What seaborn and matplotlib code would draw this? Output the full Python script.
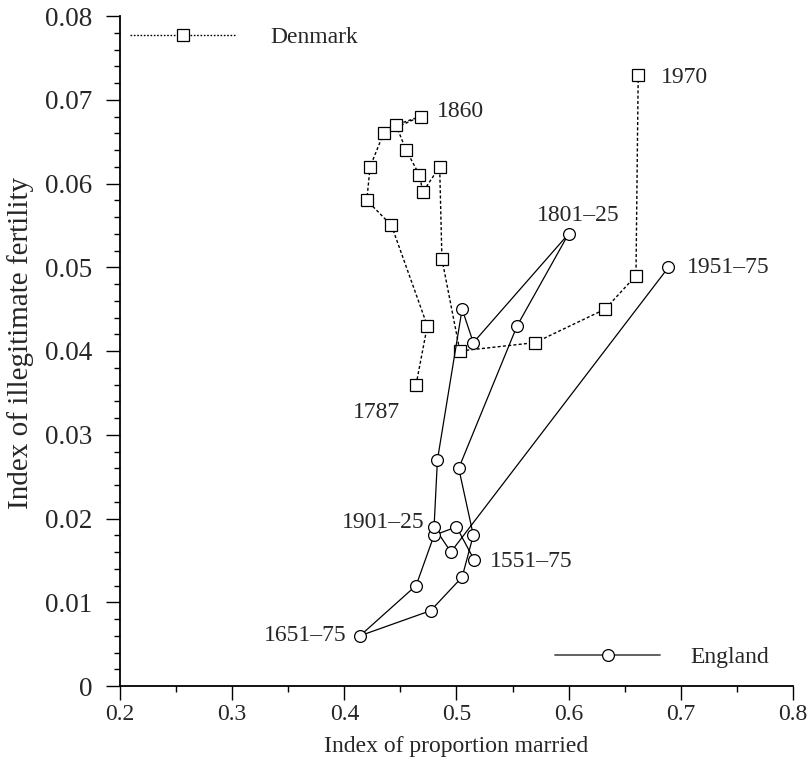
import matplotlib
matplotlib.use("Agg")
import matplotlib.pyplot as plt
from matplotlib.lines import Line2D
import seaborn as sns
import pandas as pd

# ---------------- data ----------------
denmark_x = [0.464, 0.474, 0.442, 0.420, 0.423, 0.435, 0.468, 0.446, 0.455,
             0.467, 0.470, 0.485, 0.487, 0.503, 0.570, 0.6325, 0.660, 0.662]
denmark_y = [0.036, 0.043, 0.055, 0.058, 0.062, 0.066, 0.068, 0.067, 0.064,
             0.061, 0.059, 0.062, 0.051, 0.040, 0.041, 0.045, 0.049, 0.073]
denmark_labels = {0: "1787", 6: "1860", 17: "1970"}

england_x = [0.516, 0.500, 0.480, 0.464, 0.414, 0.477, 0.505, 0.515, 0.502,
             0.554, 0.600, 0.515, 0.505, 0.483, 0.480, 0.495, 0.689]
england_y = [0.015, 0.019, 0.018, 0.012, 0.006, 0.009, 0.013, 0.018, 0.026,
             0.043, 0.054, 0.041, 0.045, 0.027, 0.019, 0.016, 0.050]
england_labels = {0: "1551–75", 4: "1651–75", 10: "1801–25", 14: "1901–25", 16: "1951–75"}

x_ticks = [0.2, 0.3, 0.4, 0.5, 0.6, 0.7, 0.8]
x_tick_labels = ["0.2", "0.3", "0.4", "0.5", "0.6", "0.7", "0.8"]
y_ticks = [0, 0.01, 0.02, 0.03, 0.04, 0.05, 0.06, 0.07, 0.08]
y_tick_labels = ["0", "0.01", "0.02", "0.03", "0.04", "0.05", "0.06", "0.07", "0.08"]

# ---------------- style ----------------
sns.set_style("ticks")
plt.rcParams["font.family"] = ["Liberation Serif", "DejaVu Serif"]
FS = 17

fig = plt.figure(figsize=(8.09, 7.68), dpi=100)
ax = fig.add_axes([120 / 809, 82 / 768, 673 / 809, 670 / 768])

dk = pd.DataFrame({"x": denmark_x, "y": denmark_y})
en = pd.DataFrame({"x": england_x, "y": england_y})

dash = (0, (2.2, 1.6))
sns.lineplot(data=dk, x="x", y="y", sort=False, estimator=None, ax=ax,
             color="black", linewidth=1.0, linestyle=dash,
             marker="s", markersize=8.5, markerfacecolor="white",
             markeredgecolor="black", markeredgewidth=0.9, legend=False)
sns.lineplot(data=en, x="x", y="y", sort=False, estimator=None, ax=ax,
             color="black", linewidth=0.9, linestyle="-",
             marker="o", markersize=8.5, markerfacecolor="white",
             markeredgecolor="black", markeredgewidth=0.9, legend=False)

# ---------------- annotations ----------------
ann_style = {
    "1787": dict(off=(-11.5, -20), ha="right"),
    "1860": dict(off=(11.5, 3.5), ha="left"),
    "1970": dict(off=(16.5, -2), ha="left"),
    "1551–75": dict(off=(11, -1), ha="left"),
    "1651–75": dict(off=(-9.5, 0), ha="right"),
    "1801–25": dict(off=(7, 13), ha="center"),
    "1901–25": dict(off=(-7, 3.5), ha="right"),
    "1951–75": dict(off=(13, 0), ha="left"),
}
for i, lab in denmark_labels.items():
    s = ann_style[lab]
    ax.annotate(lab, (denmark_x[i], denmark_y[i]), xytext=s["off"],
                textcoords="offset points", ha=s["ha"], va="center", fontsize=FS)
for i, lab in england_labels.items():
    s = ann_style[lab]
    ax.annotate(lab, (england_x[i], england_y[i]), xytext=s["off"],
                textcoords="offset points", ha=s["ha"], va="center", fontsize=FS)

# ---------------- axes ----------------
ax.set_xlim(0.2, 0.8)
ax.set_ylim(0, 0.08)
ax.set_xticks(x_ticks)
ax.set_xticklabels(x_tick_labels)
ax.set_yticks(y_ticks)
ax.set_yticklabels(y_tick_labels)
ax.set_xticks([0.25, 0.35, 0.45, 0.55, 0.65, 0.75], minor=True)
ax.set_yticks([v / 1000 for v in range(0, 81, 2) if v % 10 != 0], minor=True)
ax.tick_params(axis="both", which="major", direction="out", length=10, width=1.0,
               color="black")
ax.tick_params(axis="both", which="minor", direction="out", length=4, width=1.0,
               color="black")
ax.tick_params(axis="x", which="major", pad=3, labelsize=FS)
ax.tick_params(axis="y", which="major", pad=10, labelsize=19.5)
for sp in ["top", "right"]:
    ax.spines[sp].set_visible(False)
for sp in ["left", "bottom"]:
    ax.spines[sp].set_linewidth(1.3)
    ax.spines[sp].set_color("black")
ax.set_xlabel("Index of proportion married", fontsize=FS, labelpad=8)
ax.set_ylabel("Index of illegitimate fertility", fontsize=21)
ax.yaxis.set_label_coords(-0.128, 0.512)
ax.patch.set_alpha(0)

# ---------------- legends ----------------
h_dk = Line2D([], [], color="black", linewidth=1.0, linestyle=(0, (1.2, 1.2)),
              marker="s", markersize=8.5, markerfacecolor="white",
              markeredgecolor="black", markeredgewidth=0.9)
h_en = Line2D([], [], color="#555555", linewidth=1.3, linestyle="-",
              marker="o", markersize=8.5, markerfacecolor="white",
              markeredgecolor="black", markeredgewidth=0.9)
leg1 = ax.legend([h_dk], ["Denmark"], loc="center left",
                 bbox_to_anchor=(10 / 673, (686 - 37) / 670), frameon=False,
                 fontsize=FS, handlelength=4.45, handletextpad=1.5,
                 borderpad=0, borderaxespad=0)
ax.add_artist(leg1)
ax.legend([h_en], ["England"], loc="center left",
          bbox_to_anchor=((555 - 120) / 673, (686 - 657.7) / 670), frameon=False,
          fontsize=FS, handlelength=4.45, handletextpad=1.3,
          borderpad=0, borderaxespad=0)

fig.savefig("out.png", dpi=100)
